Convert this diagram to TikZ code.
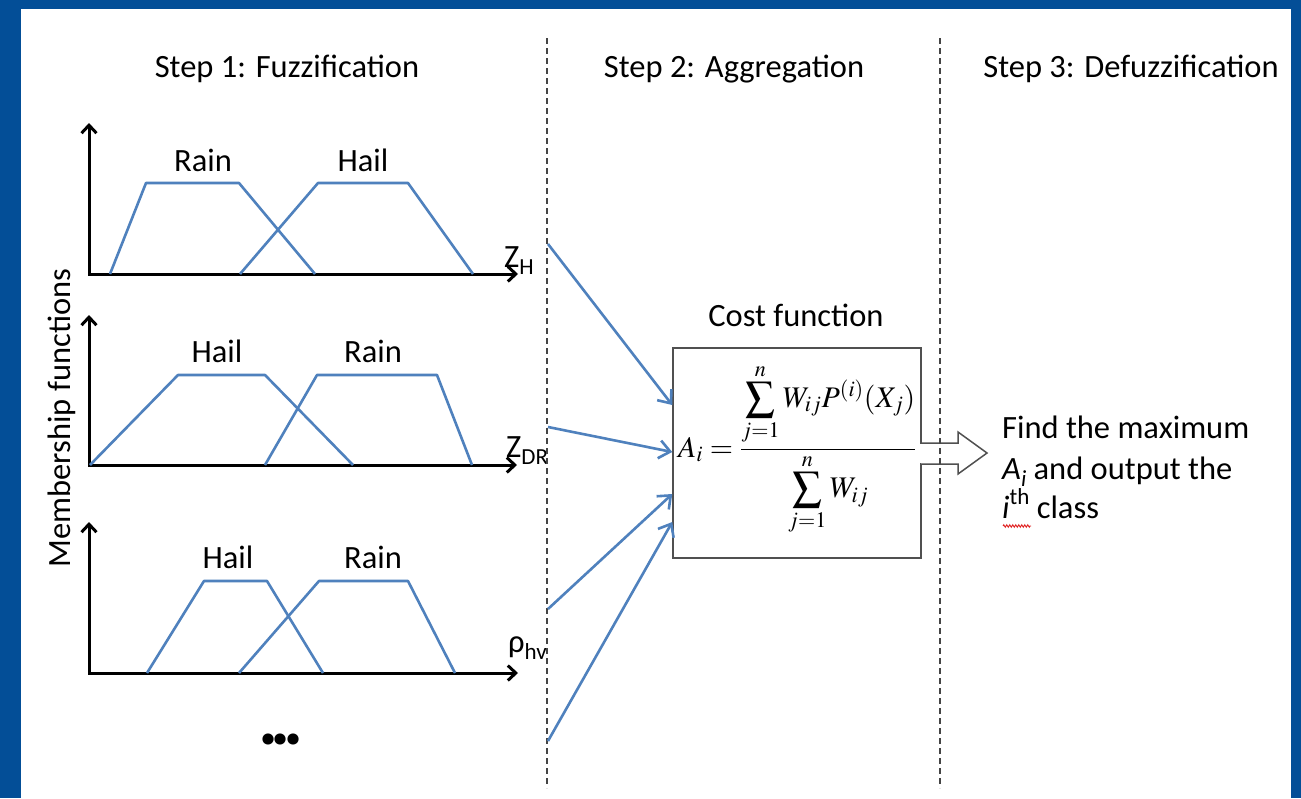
\documentclass[tikz,border=0pt]{standalone}
\usepackage{mathptmx}
\usepackage{fontspec}
\setmainfont{Carlito}
\usetikzlibrary{arrows.meta,decorations.pathmorphing}
\definecolor{frameblue}{HTML}{034E97}
\definecolor{curveblue}{HTML}{4F81BD}
\definecolor{boxgray}{HTML}{505050}
\definecolor{sepgray}{HTML}{444444}
\definecolor{spellred}{HTML}{E02020}
% a summation sign of display height built from the text-size glyph
\newcommand{\bigsigma}{\mathop{\vcenter{\hbox{\scalebox{1.4}{$\textstyle\sum$}}}}\limits}

\begin{document}
\begin{tikzpicture}[x=1pt,y=-1pt,
  lbl/.style={inner sep=0pt, font=\fontsize{32.5}{39}\selectfont},
  axis/.style={line width=3pt, line join=miter,
    {Straight Barb[length=8pt,width=15pt]}-{Straight Barb[length=8pt,width=15pt]}},
  mf/.style={curveblue, line width=2.6pt, line join=round},
  feed/.style={curveblue, line width=2.6pt, -{Straight Barb[length=11pt,width=18pt]}},
  sep/.style={sepgray, line width=1.6pt, dash pattern=on 6pt off 4pt},
  outline/.style={boxgray, line width=1.5pt}]

% frame
\fill[frameblue] (0,0) rectangle (1301,798);
\fill[white] (21,9) rectangle (1291,798);
\useasboundingbox (0,0) rectangle (1301,798);

% headings
\node[lbl, anchor=base] (h1) at (287,77) {Step 1: Fuzzification};
\node[lbl, anchor=base] (h2) at (734,77) {Step 2: Aggregation};
\node[lbl, anchor=base] (h3) at (1131,77) {Step 3: Defuzzification};

% y-axis label
\node[lbl, rotate=90, anchor=base] (ylab) at (70,418) {Membership functions};

% ---- membership plot for Z_H
\draw[axis] (89,123) -- (89,274) -- (518,274);
\draw[mf] (110,274) -- (146,183) -- (239,183) -- (315,274);
\draw[mf] (240,274) -- (318,183) -- (408,183) -- (473,274);
\node[lbl, anchor=base] (r1) at (203,171) {Rain};
\node[lbl, anchor=base] (a1) at (363,171) {Hail};
\node[lbl, anchor=base west] (zh) at (504,267) {Z\raisebox{-0.22em}{\fontsize{23}{27}\selectfont H}};

% ---- membership plot for Z_DR
\draw[axis] (89,315) -- (89,465) -- (517,465);
\draw[mf] (90,465) -- (178,375) -- (265,375) -- (353,465);
\draw[mf] (265,465) -- (317,375) -- (437,375) -- (472,465);
\node[lbl, anchor=base] (a2) at (217,362) {Hail};
\node[lbl, anchor=base] (r2) at (373,362) {Rain};
\node[lbl, anchor=base west] (zdr) at (506,457) {Z\raisebox{-0.22em}{\fontsize{23}{27}\selectfont DR}};

% ---- membership plot for rho_hv
\draw[axis] (89,522) -- (89,673) -- (518,673);
\draw[mf] (147,673) -- (204,581) -- (267,581) -- (323,673);
\draw[mf] (239,673) -- (319,581) -- (408,581) -- (455,673);
\node[lbl, anchor=base] (a3) at (228,568) {Hail};
\node[lbl, anchor=base] (r3) at (373,568) {Rain};
\node[lbl, anchor=base west] (rho) at (508,652) {ρ\raisebox{-0.22em}{\fontsize{23}{27}\selectfont hv}};

% more inputs
\node[inner sep=0pt, font=\fontsize{75}{80}\selectfont\bfseries, anchor=base] (more) at (281,744)
  {.\kern-7.5pt.\kern-7.5pt.};

% cost function box
\node[lbl, anchor=base] (costlab) at (796,326) {Cost function};
\node[outline, draw, fill=white, minimum width=248pt, minimum height=210pt, inner sep=0pt] (cost) at (797,453) {};
\node[inner sep=0pt, anchor=base west, font=\fontsize{23}{27}\selectfont] (formula) at (678,457)
  {\scalebox{1.3}{$\displaystyle A_i=\frac{\bigsigma_{j=1}^{n}W_{ij}P^{(i)}(X_j)}{\bigsigma_{j=1}^{n}W_{ij}}$}};

% output block arrow
\fill[white] (918,444) rectangle (924,463);
\draw[outline, fill=white, line join=miter]
  (921,443) -- (958,443) -- (958,432) -- (987,453) -- (958,474) -- (958,464) -- (921,464);

% result text
\node[lbl, anchor=base west] (f1) at (1002,438) {Find the maximum};
\node[lbl, anchor=base west] (f2) at (1002,479) {\textit{A}\raisebox{-0.22em}{\fontsize{23}{27}\selectfont\itshape i} and output the};
\node[lbl, anchor=base west] (f3) at (1002,518) {\textit{i}\raisebox{0.42em}{\fontsize{23}{27}\selectfont th} class};
\draw[spellred, line width=0.9pt, decorate, decoration={zigzag, amplitude=1.2pt, segment length=3pt}]
  (1003,526) -- (1031,526);

% step separators
\draw[sep] (547,38) -- (547,788);
\draw[sep] (940,38) -- (940,788);

% inputs feeding the cost function
\coordinate (s1) at (548,244);
\coordinate (s2) at (548,427);
\coordinate (s3) at (548,609);
\coordinate (s4) at (548,741);
\draw[feed] (s1) -- ([yshift=48pt]cost.west);
\draw[feed] (s2) -- ([yshift=1pt]cost.west);
\draw[feed] (s3) -- ([yshift=-41pt]cost.west);
\draw[feed] (s4) -- ([yshift=-69pt]cost.west);
\end{tikzpicture}
\end{document}
